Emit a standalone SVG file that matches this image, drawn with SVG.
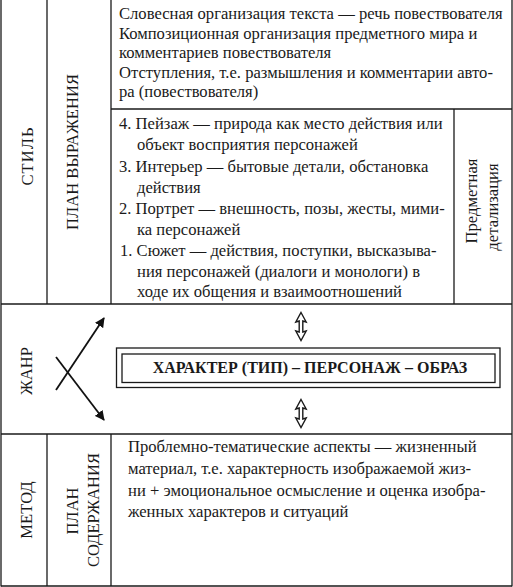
<svg xmlns="http://www.w3.org/2000/svg" width="513" height="587" viewBox="0 0 513 587">
<defs>
<style>
.ln{stroke:#1a1a1a;stroke-width:1.3;fill:none}
.t,.v,.b{font-family:"Liberation Serif","Tinos","Noto Serif","DejaVu Serif",serif;font-size:16.6px;fill:#1a1a1a}
.v{text-anchor:middle}
.b{font-size:16px;font-weight:bold;text-anchor:middle}
.arr{stroke:#111;stroke-width:1.8;fill:none}
.dbl{stroke:#1a1a1a;stroke-width:1.4;fill:#fff;stroke-linejoin:miter}
</style>
<marker id="ah" viewBox="0 0 10 10" refX="9" refY="5" markerWidth="5.5" markerHeight="5.5" orient="auto" markerUnits="strokeWidth">
<path d="M0,0 L10,5 L0,10 Z" fill="#111"/>
</marker>
</defs>
<rect width="513" height="587" fill="#fff"/>
<g id="table">
<line class="ln" x1="1" y1="0" x2="1" y2="586.5"/>
<line class="ln" x1="512" y1="0" x2="512" y2="586.5"/>
<line class="ln" x1="1" y1="586" x2="512" y2="586"/>
<line class="ln" x1="47" y1="0" x2="47" y2="304"/>
<line class="ln" x1="111" y1="0" x2="111" y2="304"/>
<line class="ln" x1="111" y1="109" x2="512" y2="109"/>
<line class="ln" x1="454" y1="109" x2="454" y2="304"/>
<line class="ln" x1="1" y1="304" x2="512" y2="304"/>
<line class="ln" x1="1" y1="434" x2="512" y2="434"/>
<line class="ln" x1="47" y1="434" x2="47" y2="586"/>
<line class="ln" x1="111" y1="434" x2="111" y2="586"/>
</g>
<g id="label-stil"><text class="v" transform="translate(33,156) rotate(-90)" letter-spacing="1">СТИЛЬ</text></g>
<g id="label-plan-vyrazh"><text class="v" transform="translate(78,152) rotate(-90)">ПЛАН ВЫРАЖЕНИЯ</text></g>
<g id="label-zhanr"><text class="v" transform="translate(32,371) rotate(-90)">ЖАНР</text></g>
<g id="label-metod"><text class="v" transform="translate(32,510) rotate(-90)">МЕТОД</text></g>
<g id="label-plan-soderzh">
<text class="v" transform="translate(78,511) rotate(-90)">ПЛАН</text>
<text class="v" transform="translate(99,510) rotate(-90)">СОДЕРЖАНИЯ</text>
</g>
<g id="label-predmet">
<text class="v" transform="translate(477,201) rotate(-90)">Предметная</text>
<text class="v" transform="translate(498,207) rotate(-90)">детализация</text>
</g>
<g id="box-top">
<text class="t" x="119" y="19">Словесная организация текста — речь повествователя</text>
<text class="t" x="119" y="38.5">Композиционная организация предметного мира и</text>
<text class="t" x="119" y="58">комментариев повествователя</text>
<text class="t" x="119" y="77.5">Отступления, т.е. размышления и комментарии авто-</text>
<text class="t" x="119" y="97">ра (повествователя)</text>
</g>
<g id="box-detail">
<text class="t" x="119" y="129">4. Пейзаж — природа как место действия или</text>
<text class="t" x="137" y="150">объект восприятия персонажей</text>
<text class="t" x="119" y="172">3. Интерьер — бытовые детали, обстановка</text>
<text class="t" x="137" y="193">действия</text>
<text class="t" x="119" y="214">2. Портрет — внешность, позы, жесты, мими-</text>
<text class="t" x="137" y="235">ка персонажей</text>
<text class="t" x="120" y="256">1. Сюжет — действия, поступки, высказыва-</text>
<text class="t" x="137" y="277">ния персонажей (диалоги и монологи) в</text>
<text class="t" x="137" y="297">ходе их общения и взаимоотношений</text>
</g>
<g id="box-character">
<rect class="ln" x="116.5" y="348" width="383.5" height="39.5" stroke-width="1.1"/>
<rect class="ln" x="122" y="354" width="373" height="28.5" stroke-width="1.1"/>
<text class="b" x="310" y="373">ХАРАКТЕР (ТИП) – ПЕРСОНАЖ – ОБРАЗ</text>
</g>
<g id="box-content">
<text class="t" x="128" y="452">Проблемно-тематические аспекты — жизненный</text>
<text class="t" x="128" y="474">материал, т.е. характерность изображаемой жиз-</text>
<text class="t" x="128" y="496">ни + эмоциональное осмысление и оценка изобра-</text>
<text class="t" x="128" y="517">женных характеров и ситуаций</text>
</g>
<g id="connectors">
<line class="arr" x1="56" y1="390" x2="104" y2="318" marker-end="url(#ah)"/>
<line class="arr" x1="56" y1="357" x2="104" y2="420" marker-end="url(#ah)"/>
<path class="dbl" d="M301,312.5 L306.2,322 L302.8,321 L302.8,332 L306.2,331 L301,340.5 L295.8,331 L299.2,332 L299.2,321 L295.8,322 Z"/>
<path class="dbl" d="M301,399.5 L306.2,409 L302.8,408 L302.8,419 L306.2,418 L301,427.5 L295.8,418 L299.2,419 L299.2,408 L295.8,409 Z"/>
</g>
</svg>
